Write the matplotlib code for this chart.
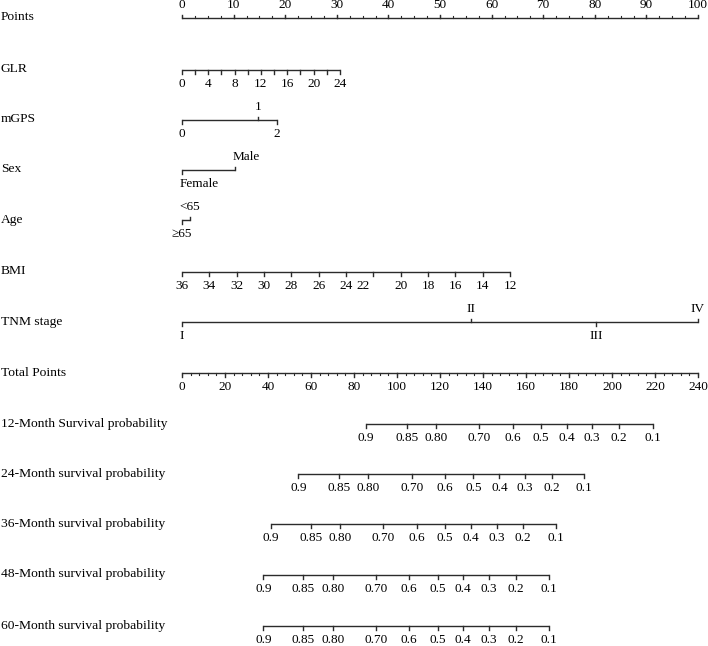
import numpy as np
import matplotlib.pyplot as plt

plt.rcParams['font.family'] = ['Liberation Serif', 'DejaVu Serif']

# ---- nomogram data ----
points_labels = np.arange(0, 101, 10)

glr_values = np.arange(0, 25, 2)
glr_label_values = np.arange(0, 25, 4)
glr_max_points = 30.6          # GLR = 24

mgps_labels = ['0', '1', '2']
mgps_points = [0, 14.7, 18.4]

sex_labels = ['Female', 'Male']
sex_points = [0, 10.3]

age_labels = ['\u226565', '<65']
age_points = [0, 1.5]

bmi_values = np.arange(36, 11, -2)
bmi_max_points = 63.6          # BMI = 12

tnm_labels = ['I', 'II', 'III', 'IV']
tnm_points = [0, 56.0, 80.2, 100]

total_labels = np.arange(0, 241, 20)
total_max = 240                # total points at the right end of the scale

surv_labels = ['0.9', '0.85', '0.80', '0.70', '0.6', '0.5', '0.4', '0.3', '0.2', '0.1']
surv_12 = [85.6, 104.5, 118.1, 138.3, 153.8, 166.9, 178.9, 190.8, 203.4, 218.9]
surv_24 = [54.1, 73.0, 86.7, 107.1, 122.3, 135.5, 147.6, 159.5, 172.0, 187.1]
surv_36 = [41.3, 59.8, 73.5, 93.6, 109.2, 122.3, 134.3, 146.4, 158.7, 174.0]
surv_48 = [37.8, 56.4, 70.1, 90.2, 105.7, 118.9, 130.8, 142.8, 155.2, 170.7]
surv_60 = [37.8, 56.4, 70.1, 90.2, 105.7, 118.9, 130.8, 142.8, 155.2, 170.7]

row_names = ['Points', 'GLR', 'mGPS', 'Sex', 'Age', 'BMI', 'TNM stage', 'Total Points',
             '12-Month Survival probability', '24-Month survival probability',
             '36-Month survival probability', '48-Month survival probability',
             '60-Month survival probability']
row_y = [18, 70, 120, 170, 220, 272, 322, 373, 424, 474, 524, 575, 626]

# ---- drawing ----
W, H = 708, 646
x0, px_per_pt = 182, 5.16
LC = '#2b2b2b'
FS_LAB, FS_TICK = 9.7, 9.5

fig = plt.figure(figsize=(W / 100, H / 100), dpi=100)
ax = fig.add_axes([0, 0, 1, 1])
ax.set_xlim(-x0 / px_per_pt, (W - x0) / px_per_pt)
ax.set_ylim(H, 0)
ax.axis('off')

tk = 3.5       # tick length (px)
off_dn = 14    # label offset below the line (px)
off_up = 12.5  # label offset above the line (px)


def lab_y(y, s):
    return y + (off_dn if s > 0 else -off_up)


def draw_scale(y, pos, labels, sides, minor=None, ha='center', dx=0.0):
    ax.plot([min(pos), max(pos)], [y, y], color=LC, lw=1.0, solid_capstyle='butt')
    if minor is not None:
        for m in minor:
            ax.plot([m, m], [y, y + tk * 0.6 * sides[0]], color=LC, lw=0.8)
    for p, lab, s in zip(pos, labels, sides):
        ax.plot([p, p], [y, y + tk * s], color=LC, lw=1.0)
        ax.text(p + dx, lab_y(y, s), lab, ha=ha, va='center', fontsize=FS_TICK)


for name, y in zip(row_names, row_y):
    ax.text(0.001, y - 0.5, name, transform=ax.get_yaxis_transform(),
            ha='left', va='center', fontsize=FS_LAB)

# Points
draw_scale(row_y[0], points_labels, [str(v) for v in points_labels], [-1] * 11,
           minor=np.arange(0, 100.1, 2.5))

# GLR
glr_pts = glr_values * glr_max_points / 24
draw_scale(row_y[1], glr_pts, [''] * len(glr_pts), [1] * len(glr_pts))
for v in glr_label_values:
    ax.text(v * glr_max_points / 24, lab_y(row_y[1], 1), str(v), ha='center', va='center',
            fontsize=FS_TICK)

# mGPS, Sex, Age
draw_scale(row_y[2], mgps_points, mgps_labels, [1, -1, 1])
draw_scale(row_y[3], sex_points, sex_labels, [1, -1], ha='left', dx=-0.4)
draw_scale(row_y[4], age_points, age_labels, [1, -1])

# BMI (the "22" label sits a little left of its tick in the original)
bmi_pts = (36 - bmi_values) * bmi_max_points / 24
draw_scale(row_y[5], bmi_pts, [''] * len(bmi_pts), [1] * len(bmi_pts))
for v, p in zip(bmi_values, bmi_pts):
    shift = -2.0 if v == 22 else 0.0
    ax.text(p + shift, lab_y(row_y[5], 1), str(v), ha='center', va='center',
            fontsize=FS_TICK)

# TNM stage
draw_scale(row_y[6], tnm_points, tnm_labels, [1, -1, 1, -1])

# Total points
tscale = 100 / total_max
draw_scale(row_y[7], total_labels * tscale, [str(v) for v in total_labels],
           [1] * len(total_labels), minor=np.arange(0, total_max + 0.1, 4) * tscale)

# Survival probabilities
for y, s in zip(row_y[8:], [surv_12, surv_24, surv_36, surv_48, surv_60]):
    draw_scale(y, np.array(s) * tscale, surv_labels, [1] * len(s))

fig.savefig('out.png', dpi=100)
